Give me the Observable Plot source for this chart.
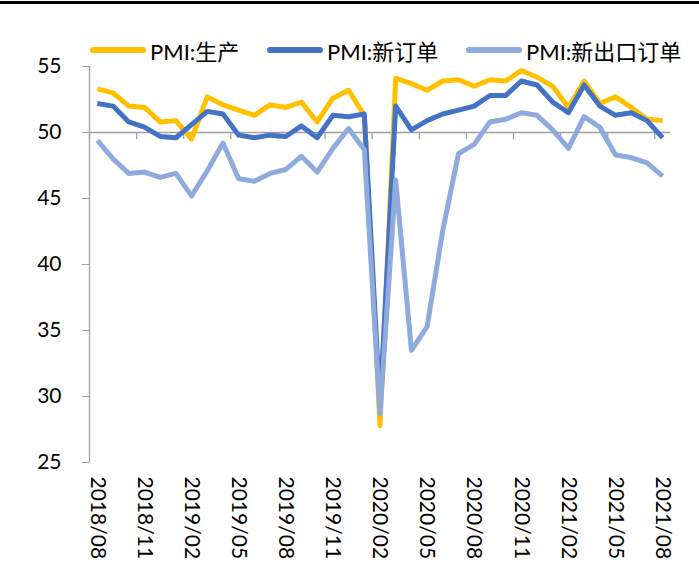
<!DOCTYPE html>
<html>
<head>
<meta charset="utf-8">
<script src="https://cdn.jsdelivr.net/npm/d3@7"></script>
<script src="https://cdn.jsdelivr.net/npm/@observablehq/plot@0.6"></script>
<style>
  html, body { margin: 0; padding: 0; background: #fff; }
  body { position: relative; width: 699px; height: 567px; overflow: hidden; font-family: Lato, "Noto Sans CJK SC", sans-serif; }
  #top { position: absolute; left: 0; top: 0; width: 699px; height: 60px; z-index: 2; }
  #bar { position: absolute; left: 0; top: 1px; width: 699px; height: 3px; background: #000; }
  .item { position: absolute; top: 34px; display: flex; align-items: center; font-size: 22px; color: #000; white-space: nowrap; font-family: Lato, "Noto Sans CJK SC", sans-serif; }
  .sw { width: 56px; height: 6px; border-radius: 3px; margin-right: 4px; }
  #chart { position: absolute; left: 0; top: 0; }
  #chart svg { display: block; }
</style>
</head>
<body>
<div id="chart"></div>
<div id="top"><div id="bar"></div><div id="legend"></div></div>
<script>
const months = ["2018/08","2018/09","2018/10","2018/11","2018/12",
  "2019/01","2019/02","2019/03","2019/04","2019/05","2019/06","2019/07","2019/08","2019/09","2019/10","2019/11","2019/12",
  "2020/01","2020/02","2020/03","2020/04","2020/05","2020/06","2020/07","2020/08","2020/09","2020/10","2020/11","2020/12",
  "2021/01","2021/02","2021/03","2021/04","2021/05","2021/06","2021/07","2021/08"];
const production = [53.3,53.0,52.0,51.9,50.8,
  50.9,49.5,52.7,52.1,51.7,51.3,52.1,51.9,52.3,50.8,52.6,53.2,
  51.3,27.8,54.1,53.7,53.2,53.9,54.0,53.5,54.0,53.9,54.7,54.2,
  53.5,51.9,53.9,52.2,52.7,51.9,51.0,50.9];
const newOrders = [52.2,52.0,50.8,50.4,49.7,
  49.6,50.6,51.6,51.4,49.8,49.6,49.8,49.7,50.5,49.6,51.3,51.2,
  51.4,29.3,52.0,50.2,50.9,51.4,51.7,52.0,52.8,52.8,53.9,53.6,
  52.3,51.5,53.6,52.0,51.3,51.5,50.9,49.6];
const exportOrders = [49.4,48.0,46.9,47.0,46.6,
  46.9,45.2,47.1,49.2,46.5,46.3,46.9,47.2,48.2,47.0,48.8,50.3,
  48.7,28.7,46.4,33.5,35.3,42.6,48.4,49.1,50.8,51.0,51.5,51.3,
  50.2,48.8,51.2,50.4,48.3,48.1,47.7,46.7];
const seriesNames = ["PMI:生产","PMI:新订单","PMI:新出口订单"];
const seriesColors = ["#FFC000","#4472C4","#8FAADC"];
const yTicks = [25,30,35,40,45,50,55];
const labelIdx = d3.range(0, months.length, 3);
const boundaries = d3.range(0, months.length + 1, 3).map(i => i - 0.5);

const toRows = arr => arr.map((v, i) => ({i, v}));
const all = [production, newOrders, exportOrders];

// legend
const legendLeft = [90, 267, 466];
const lg = document.getElementById("legend");
seriesNames.forEach((n, k) => {
  const it = document.createElement("div");
  it.className = "item";
  it.style.left = legendLeft[k] + "px";
  const sw = document.createElement("div");
  sw.className = "sw";
  sw.style.background = seriesColors[k];
  const t = document.createElement("span");
  t.textContent = n;
  it.appendChild(sw); it.appendChild(t);
  lg.appendChild(it);
});

const axisGray = "#a0a0a0";
const chart = Plot.plot({
  width: 699,
  height: 567,
  marginTop: 66,
  marginBottom: 105,
  marginLeft: 89,
  marginRight: 29,
  style: {fontFamily: "Lato, 'Noto Sans CJK SC', sans-serif", fontSize: "21px", color: "#000", background: "transparent"},
  x: {type: "linear", domain: [-0.5, months.length - 0.5]},
  y: {domain: [25, 55]},
  marks: [
    Plot.ruleX([-0.5], {y1: 25, y2: 55, stroke: axisGray, strokeWidth: 1.3}),
    Plot.axisY({ticks: yTicks, tickSize: 7, tickPadding: 21, stroke: axisGray, fontSize: 21, fill: "#000", label: null}),
    Plot.ruleY([50], {x1: -0.5, x2: months.length - 0.5, stroke: axisGray, strokeWidth: 1.3}),
    Plot.ruleX(boundaries, {y1: 50, y2: 50, insetBottom: -7, stroke: axisGray, strokeWidth: 1.3}),
    Plot.axisX({ticks: labelIdx, tickFormat: i => months[i], tickRotate: 90, tickSize: 0, tickPadding: 14, fontSize: 21, fill: "#000", label: null}),
    ...all.map((arr, k) => Plot.line(toRows(arr), {x: "i", y: "v", stroke: seriesColors[k], strokeWidth: 5, strokeLinejoin: "round", strokeLinecap: "butt"}))
  ]
});
document.getElementById("chart").appendChild(chart);
</script>
</body>
</html>
